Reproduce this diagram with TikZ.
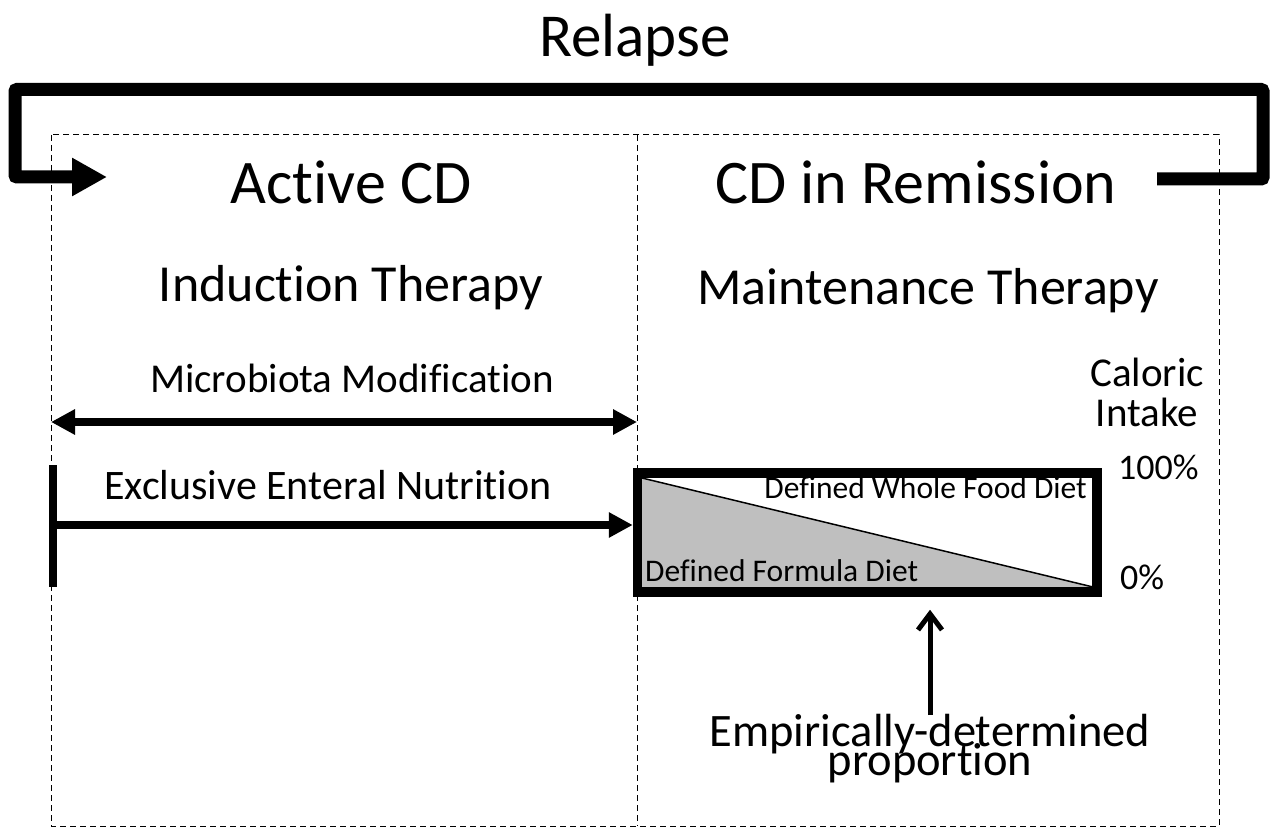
\documentclass[tikz,border=0pt]{standalone}
\usepackage{fontspec}
\setmainfont{Carlito}[Ligatures={NoCommon}]
\usetikzlibrary{arrows.meta}
\definecolor{dietgray}{HTML}{BFBFBF}
\newcommand\setfs[1]{\fontsize{#1}{#1}\selectfont}
\begin{document}
\begin{tikzpicture}[x=1pt,y=-1pt,
  txt/.style={inner sep=0pt, anchor=base},
  panel/.style={draw, line width=1pt, dash pattern=on 6pt off 4pt},
  bigarrow/.style={line width=7.5pt, -{Triangle[length=24pt,width=24pt]}},
  dblarrow/.style={line width=7.5pt, {Triangle[length=24pt,width=24pt]}-{Triangle[length=24pt,width=24pt]}},
  relapsearrow/.style={line width=13pt, rounded corners=2pt, -{Triangle[length=35pt,width=36pt]}},
  uparrow/.style={line width=5pt, -{Straight Barb[length=16pt,width=24pt]}},
  dietbox/.style={draw, line width=9.5pt, minimum width=459.5pt, minimum height=119pt, inner sep=0pt}]
\useasboundingbox (0,0) rectangle (1272,829);

% panels
\draw[panel] (51,135) rectangle (1219,826);
\draw[panel] (637,135) -- (637,826);

% relapse loop
\node[txt] (relapse) at (635,57) {\setfs{61}Relapse};
\coordinate (r0) at (1157,179);
\coordinate (r1) at (1263,179);
\coordinate (r2) at (1263,89.5);
\coordinate (r3) at (15,89.5);
\coordinate (r4) at (15,177);
\coordinate (r5) at (107,177);
\draw[relapsearrow] (r0) -- (r1) -- (r2) -- (r3) -- (r4) -- (r5);

% headings
\node[txt] (active) at (351,204) {\setfs{62}Active CD};
\node[txt] (remission) at (916,204) {\setfs{62}CD in Remission};
\node[txt] (induction) at (351,301) {\setfs{52}Induction Therapy};
\node[txt] (maintenance) at (928,305) {\setfs{52}Maintenance Therapy};

% microbiota modification
\node[txt] (micro) at (352,392) {\setfs{41}Microbiota Modification};
\coordinate (m1) at (51,422);
\coordinate (m2) at (637,422);
\draw[dblarrow] (m1) -- (m2);

% diet box
\node[dietbox] (box) at (867.25,532.5) {};
\coordinate (tA) at (642,478);
\coordinate (tB) at (642,587);
\coordinate (tC) at (1093,587);
\fill[dietgray] (tA) -- (tC) -- (tB) -- cycle;
\draw[line width=1.5pt] (tA) -- (tC);
\node[dietbox] at (box.center) {};
\node[txt, anchor=base east] (whole) at (1087,498) {\setfs{31.5}Defined Whole Food Diet};
\node[txt, anchor=base west] (formula) at (645,581) {\setfs{31.5}Defined Formula Diet};

% exclusive enteral nutrition
\node[txt] (een) at (328,499) {\setfs{42}Exclusive Enteral Nutrition};
\coordinate (barTop) at (53,465);
\coordinate (barBot) at (53,587);
\draw[line width=8pt] (barTop) -- (barBot);
\coordinate (eenS) at (53,525);
\draw[bigarrow] (eenS) -- (box.west |- eenS);

% caloric intake scale
\node[txt] (caloric) at (1147,386) {\setfs{41}Caloric};
\node[txt] (intake) at (1147,426) {\setfs{41}Intake};
\node[txt, anchor=base west] (hundred) at (1118,479) {\setfs{36}100\%};
\node[txt, anchor=base west] (zero) at (1120,589) {\setfs{36}0\%};

% empirically-determined proportion
\node[txt] (emp1) at (930,746) {\setfs{46.5}Empirically-determined};
\node[txt] (emp2) at (930,775) {\setfs{46.5}proportion};
\coordinate (empTop) at (930,715);
\draw[uparrow] (empTop) -- ([yshift=-13pt]box.south -| empTop);
\end{tikzpicture}
\end{document}
